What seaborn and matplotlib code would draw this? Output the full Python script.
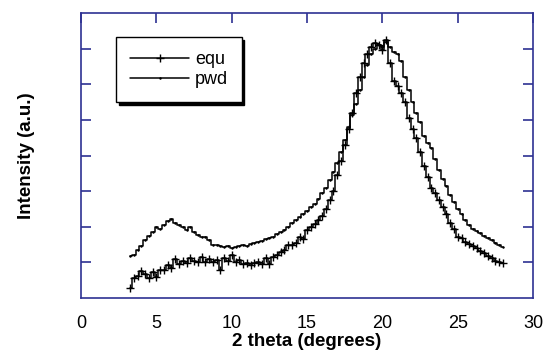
import numpy as np
import pandas as pd
import seaborn as sns
from matplotlib import pyplot as plt

# 2 theta grid (degrees)
two_theta = [3.25, 3.5, 3.75, 4.0, 4.25, 4.5, 4.75, 5.0, 5.25, 5.5, 5.75, 6.0,
             6.25, 6.5, 6.75, 7.0, 7.25, 7.5, 7.75, 8.0, 8.25, 8.5, 8.75, 9.0,
             9.25, 9.5, 9.75, 10.0, 10.25, 10.5, 10.75, 11.0, 11.25, 11.5, 11.75, 12.0,
             12.25, 12.5, 12.75, 13.0, 13.25, 13.5, 13.75, 14.0, 14.25, 14.5, 14.75, 15.0,
             15.25, 15.5, 15.75, 16.0, 16.25, 16.5, 16.75, 17.0, 17.25, 17.5, 17.75, 18.0,
             18.25, 18.5, 18.75, 19.0, 19.25, 19.5, 19.75, 20.0, 20.25, 20.5, 20.75, 21.0,
             21.25, 21.5, 21.75, 22.0, 22.25, 22.5, 22.75, 23.0, 23.25, 23.5, 23.75, 24.0,
             24.25, 24.5, 24.75, 25.0, 25.25, 25.5, 25.75, 26.0, 26.25, 26.5, 26.75, 27.0,
             27.25, 27.5, 27.75, 28.0]

equ = [0.28, 0.55, 0.62, 0.75, 0.68, 0.55, 0.72, 0.6, 0.8, 0.78, 0.92, 0.85,
       1.1, 0.95, 1.05, 0.98, 1.12, 1.05, 1.0, 1.15, 1.02, 1.1, 1.0, 1.08,
       0.78, 1.12, 1.05, 1.2, 1.0, 1.08, 0.95, 0.98, 0.92, 0.98, 1.0, 0.95,
       1.12, 0.95, 1.15, 1.2, 1.3, 1.35, 1.48, 1.5, 1.55, 1.7, 1.65, 1.9,
       2.0, 2.08, 2.2, 2.3, 2.5, 2.75, 3.0, 3.45, 3.85, 4.3, 4.75, 5.2,
       5.75, 6.2, 6.6, 6.85, 7.05, 7.15, 7.1, 6.95, 7.25, 6.6, 6.1, 5.95,
       5.75, 5.5, 5.05, 4.75, 4.5, 4.1, 3.7, 3.4, 3.1, 2.95, 2.75, 2.55,
       2.35, 2.1, 1.95, 1.72, 1.68, 1.58, 1.52, 1.45, 1.4, 1.32, 1.25, 1.18,
       1.12, 1.05, 1.02, 0.98]

pwd = [1.18, 1.22, 1.35, 1.45, 1.62, 1.75, 1.85, 1.98, 1.95, 2.05, 2.15, 2.22,
       2.12, 2.05, 2.0, 1.92, 1.98, 1.85, 1.78, 1.72, 1.7, 1.62, 1.5, 1.48,
       1.45, 1.42, 1.45, 1.4, 1.43, 1.45, 1.48, 1.45, 1.52, 1.55, 1.58, 1.6,
       1.65, 1.68, 1.72, 1.8, 1.85, 1.9, 2.0, 2.1, 2.2, 2.28, 2.35, 2.45,
       2.55, 2.65, 2.78, 2.95, 3.1, 3.3, 3.55, 3.8, 4.1, 4.45, 4.8, 5.15,
       5.45, 5.85, 6.2, 6.55, 6.85, 7.0, 7.1, 7.05, 7.2, 7.05, 6.9, 6.85,
       6.65, 6.2, 5.85, 5.5, 5.2, 4.95, 4.55, 4.35, 4.2, 3.9, 3.6, 3.35,
       3.15, 2.9, 2.7, 2.5, 2.35, 2.2, 2.05, 1.95, 1.88, 1.82, 1.75, 1.68,
       1.62, 1.55, 1.5, 1.42]

df = pd.DataFrame({"theta": two_theta, "equ": equ, "pwd": pwd})

sns.set_theme(style="white")
plt.rcParams["font.family"] = ["Liberation Sans", "DejaVu Sans"]
plt.rcParams["text.color"] = "black"
plt.rcParams["axes.labelcolor"] = "black"
plt.rcParams["xtick.labelcolor"] = "black"

frame_color = "#2e3192"

fig = plt.figure(figsize=(5.44, 3.63), dpi=100)
ax = fig.add_axes([0.149, 0.179, 0.831, 0.785])

sns.lineplot(x="theta", y="equ", data=df, ax=ax, color="black", linewidth=1.1,
             marker="+", markersize=6, markeredgewidth=1.0, markeredgecolor="black",
             drawstyle="steps-mid", label="equ")
sns.lineplot(x="theta", y="pwd", data=df, ax=ax, color="black", linewidth=1.1,
             marker=".", markersize=2, markeredgecolor="black",
             drawstyle="steps-mid", label="pwd")

ax.set_xlim(0, 30)
ax.set_ylim(0, 8)
ax.set_xticks([0, 5, 10, 15, 20, 25, 30])
ax.set_yticks([1, 2, 3, 4, 5, 6, 7])
ax.set_yticklabels([])
ax.tick_params(axis="both", direction="in", length=7, width=1.2, color=frame_color,
               top=True, right=True, labelsize=13, pad=12, labelcolor="black")
ax.tick_params(axis="y", left=True, labelleft=False)
for side in ax.spines.values():
    side.set_color(frame_color)
    side.set_linewidth(1.2)

ax.set_xlabel("2 theta (degrees)", fontsize=13.5, fontweight="bold", labelpad=1)
ax.set_ylabel("Intensity (a.u.)", fontsize=13.5, fontweight="bold", labelpad=33)

leg = ax.legend(loc="upper left", bbox_to_anchor=(0.078, 0.915), fontsize=13,
                frameon=True, fancybox=False, shadow={"color": "black", "alpha": 1.0},
                edgecolor="black", handlelength=3.3, handletextpad=0.3,
                borderpad=0.75, labelspacing=0.2, borderaxespad=0)
leg.get_frame().set_linewidth(1.0)
for t in leg.get_texts():
    t.set_color("black")

plt.savefig("out.png", dpi=100)
